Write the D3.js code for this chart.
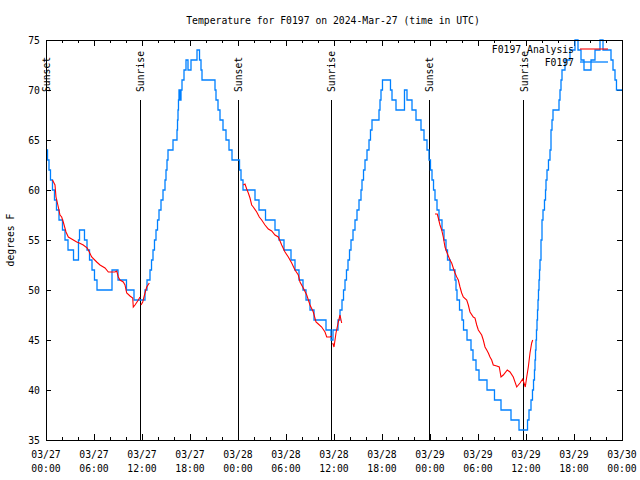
<!DOCTYPE html>
<html><head><meta charset="utf-8">
<script src="https://cdn.jsdelivr.net/npm/d3@7"></script>
<style>
body{margin:0;background:#fff}
svg text{font-family:"DejaVu Sans Mono",monospace;font-size:9.75px;fill:#000}
</style></head>
<body><svg id="c" width="640" height="480"></svg>
<script>
const title = "Temperature for F0197 on 2024-Mar-27 (time in UTC)";
const yLabel = "degrees F";
// hours since 2024-03-27 00:00 UTC
const tickHours = [0,6,12,18,24,30,36,42,48,54,60,66,72];
const tickDates = ["03/27","03/27","03/27","03/27","03/28","03/28","03/28","03/28","03/29","03/29","03/29","03/29","03/30"];
const tickTimes = ["00:00","06:00","12:00","18:00","00:00","06:00","12:00","18:00","00:00","06:00","12:00","18:00","00:00"];
const yTicks = [35,40,45,50,55,60,65,70,75];
const sunHours = [0.0, 11.79, 24.04, 35.66, 47.92, 59.71];
const sunLabels = ["Sunset","Sunrise","Sunset","Sunrise","Sunset","Sunrise"];
const seriesNames = ["F0197 Analysis","F0197"];

const blueHours = [0,0.19,0.375,0.56,0.81,1.06,1.31,1.625,2.06,2.375,
2.75,3.44,4.06,4.19,4.81,5.125,5.44,5.75,6.06,6.375,
8.25,9.0,10.06,11.0,12.375,12.625,13.0,13.19,13.375,13.56,
13.75,13.94,14.125,14.375,14.625,14.875,15.0,15.125,15.25,15.875,
16.375,16.44,16.5,16.56,16.625,16.75,16.875,17.0,17.25,17.5,
17.75,18.125,18.875,19.19,19.375,19.5,21.125,21.25,21.5,21.75,
22.125,22.5,22.875,23.25,24.19,24.375,24.625,26.125,26.625,27.44,
28.625,29.125,29.75,30.625,31.125,31.625,32.125,32.5,33.0,33.5,
35.0,35.625,35.875,36.5,36.75,37.0,37.19,37.375,37.56,37.75,
37.94,38.125,38.375,38.625,38.875,39.125,39.375,39.5,39.69,39.875,
40.125,40.375,40.56,40.75,41.625,41.75,41.875,42.06,43.06,43.25,
43.75,44.81,45.125,45.75,46.25,46.875,47.25,47.625,47.875,48.06,
48.25,48.44,48.625,48.875,49.125,49.5,49.75,50.0,50.19,50.5,
51.125,51.25,51.375,51.69,52.0,52.19,52.625,53.125,53.375,53.75,
54.125,55.125,56.06,56.875,58.125,59.125,60.19,60.375,60.625,60.81,
60.94,61.06,61.125,61.19,61.25,61.31,61.375,61.44,61.5,61.56,
61.625,61.69,61.75,61.875,62.0,62.125,62.31,62.44,62.5,62.625,
62.81,63.0,63.125,63.25,63.375,64.125,64.25,64.375,64.5,64.875,
65.5,66.125,66.5,66.875,67.25,68.125,68.625,69.25,69.625,70.625,
70.875,71.125,71.31,72];
const blueTemps = [64,63,62,61,60,59,58,57,56,55,
54,53,55,56,55,54,53,52,51,50,
52,51,50,49,50,51,52,53,54,55,
56,57,58,59,60,61,62,63,64,65,
66,67,68,69,70,69,70,71,72,73,
72,73,74,73,72,71,70,69,68,67,
66,65,64,63,62,61,60,59,58,57,
56,55,54,53,52,51,50,49,48,47,
46,45,46,47,48,49,50,51,52,53,
54,55,56,57,58,59,60,61,62,63,
64,65,66,67,68,69,70,71,70,69,
68,70,69,68,67,66,65,64,63,62,
61,60,59,58,57,56,55,54,53,52,
51,50,49,48,47,46,45,44,43,42,
41,40,39,38,37,36,37,38,39,40,
41,42,43,44,45,46,47,48,49,50,
51,52,53,55,57,58,59,60,61,62,
63,64,66,67,68,69,70,71,72,73,
74,75,74,73,72,73,74,75,74,73,
72,71,70,70];

const redHours = [0.81,1.0,1.125,1.25,1.54,1.75,1.96,2.16,2.5,2.79,
3.21,3.84,4.16,4.66,5.16,5.41,5.71,6.34,6.75,7.375,
7.79,8.625,8.84,9.04,9.25,9.66,9.875,10.09,10.5,10.84,
10.91,11.125,11.54,11.75,null,
11.875,12.09,12.375,12.59,12.91,null,
24.66,24.875,25.09,25.29,25.5,25.71,25.91,26.34,26.66,26.96,
27.375,27.79,28.21,28.625,29.04,29.46,29.875,30.29,30.71,31.125,
31.54,31.75,32.16,32.59,33.0,33.41,33.75,34.04,34.46,34.875,
35.09,35.5,35.71,null,
35.84,36.0,36.25,36.54,36.75,36.96,null,
48.625,48.91,49.04,49.25,49.46,49.66,49.875,50.09,50.29,50.5,
50.71,50.91,51.125,51.34,51.54,51.75,51.96,52.16,52.59,52.79,
53.0,53.41,53.625,53.84,54.04,54.46,54.66,54.875,55.09,55.29,
55.5,55.71,55.91,56.34,56.66,56.875,57.16,57.66,58.0,58.41,
58.84,59.25,59.59,59.75,59.91,60.09,60.29,60.5,60.71,60.84];
const redTemps = [61,60.7,60.5,59.3,58.3,57.5,57.3,56.8,55.8,55.3,
55.1,54.8,54.7,54.5,54.2,53.8,53.3,52.8,52.5,52.2,
51.8,51.8,51.9,51.3,51,50.8,50.5,49.7,49.4,49.2,
48.3,48.5,49,49.3,null,
48.5,48.8,49.7,50.3,50.7,null,
60.5,60.6,60.1,59.7,59.2,58.5,58.3,57.8,57.3,57,
56.5,56.1,55.9,55.5,55.3,54.5,53.8,53.3,52.7,52,
51.5,50.8,50.2,49.5,48.5,47.8,46.8,46.6,46.3,45.8,
45.3,45.3,45.4,null,
44.7,44.3,45.7,46.8,47.5,46.7,null,
57.6,57.6,57.2,56.5,56,55.3,54.3,53.8,53.4,53,
52.7,52.2,51.7,51.3,51,50.3,49.7,49.3,49,48.5,
47.8,47.3,47.2,46.5,46,45.5,45,44.3,44,43.7,
43.3,43,42.5,42.4,42.3,41.3,41.5,42,41.8,41.3,
40.3,40.7,41.1,40.7,40.3,41.3,42.3,43.7,44.7,45];

const L=46,R=622,T=40,B=440;
const svg = d3.select("#c");
const x = d3.scaleLinear().domain([0,72]).range([L,R]);
const y = d3.scaleLinear().domain([35,75]).range([B,T]);
const BLUE="#0080ff", RED="#ff0000";

svg.append("text").attr("x",333).attr("y",23.5).attr("text-anchor","middle").text(title);
svg.append("text").attr("transform","translate(14,240) rotate(-90)").attr("text-anchor","middle").text(yLabel);

sunHours.forEach((h,i)=>{
  svg.append("line").attr("x1",x(h)).attr("x2",x(h)).attr("y1",100).attr("y2",B)
    .attr("stroke","#000").attr("stroke-width",1).attr("shape-rendering","crispEdges");
  svg.append("text").attr("transform",`translate(${x(h)+4},92) rotate(-90)`).text(sunLabels[i]);
});

const minorHours = d3.range(0,73,2).filter(h=>h%6!==0);
function styleAxis(g){ g.selectAll(".domain").remove(); g.selectAll("line").attr("stroke","#000").attr("shape-rendering","crispEdges"); }
svg.append("g").attr("transform",`translate(0,${B})`)
  .call(d3.axisBottom(x).tickValues(tickHours).tickSize(-6).tickFormat(()=>"")).call(styleAxis);
svg.append("g").attr("transform",`translate(0,${B})`)
  .call(d3.axisBottom(x).tickValues(minorHours).tickSize(-3).tickFormat(()=>"")).call(styleAxis);
svg.append("g").attr("transform",`translate(0,${T})`)
  .call(d3.axisTop(x).tickValues(tickHours).tickSize(-6).tickFormat(()=>"")).call(styleAxis);
svg.append("g").attr("transform",`translate(0,${T})`)
  .call(d3.axisTop(x).tickValues(minorHours).tickSize(-3).tickFormat(()=>"")).call(styleAxis);
svg.append("g").attr("transform",`translate(${L},0)`)
  .call(d3.axisLeft(y).tickValues(yTicks).tickSize(-5).tickFormat(()=>"")).call(styleAxis);
svg.append("g").attr("transform",`translate(${R},0)`)
  .call(d3.axisRight(y).tickValues(yTicks).tickSize(-5).tickFormat(()=>"")).call(styleAxis);

tickHours.forEach((h,i)=>{
  const t = svg.append("text").attr("text-anchor","middle");
  t.append("tspan").attr("x",x(h)).attr("y",458).text(tickDates[i]);
  t.append("tspan").attr("x",x(h)).attr("y",472).text(tickTimes[i]);
});
yTicks.forEach(v=>{
  svg.append("text").attr("x",40).attr("y",y(v)+3.5).attr("text-anchor","end").text(v);
});

svg.append("clipPath").attr("id","clip").append("rect").attr("x",L).attr("y",T-1).attr("width",R-L).attr("height",B-T+1);
const blueData = blueHours.map((h,i)=>({h,v:blueTemps[i]}));
const redData = redHours.map((h,i)=>({h,v:redTemps[i]}));
svg.append("path").datum(blueData).attr("clip-path","url(#clip)")
  .attr("d",d3.line().x(d=>x(d.h)).y(d=>y(d.v)).curve(d3.curveStepAfter))
  .attr("fill","none").attr("stroke",BLUE).attr("stroke-width",1.3);
svg.append("path").datum(redData).attr("clip-path","url(#clip)")
  .attr("d",d3.line().defined(d=>d.v!=null&&d.h!=null).x(d=>x(d.h)).y(d=>y(d.v)))
  .attr("fill","none").attr("stroke",RED).attr("stroke-width",1.1);

svg.append("rect").attr("x",L).attr("y",T).attr("width",R-L).attr("height",B-T)
  .attr("fill","none").attr("stroke","#000").attr("stroke-width",1).attr("shape-rendering","crispEdges");

const legColors=[RED,BLUE];
seriesNames.forEach((n,i)=>{
  const ly = 49 + i*13;
  svg.append("text").attr("x",574).attr("y",ly+3.5).attr("text-anchor","end").text(n);
  svg.append("line").attr("x1",580).attr("x2",608).attr("y1",ly).attr("y2",ly)
    .attr("stroke",legColors[i]).attr("stroke-width",i?1.3:1.1);
});
</script></body></html>
